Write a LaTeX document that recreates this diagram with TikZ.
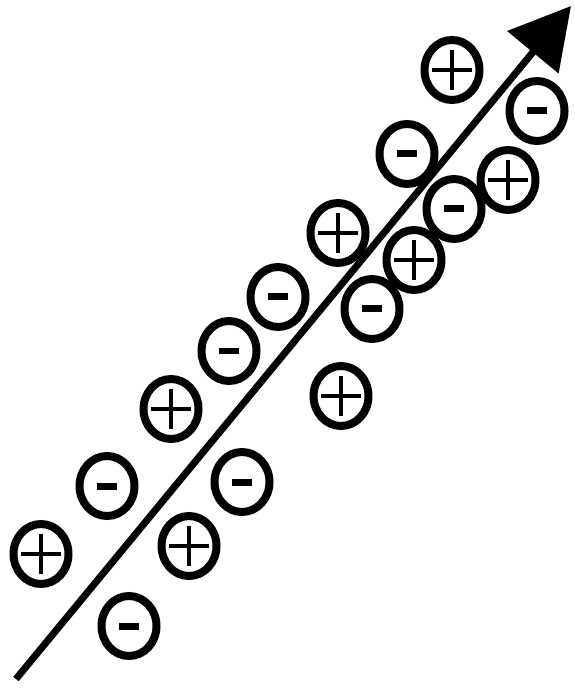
\documentclass[tikz,border=0pt]{standalone}
\usetikzlibrary{arrows.meta,shapes.geometric}

\tikzset{
  charge/.style={draw, ellipse, line width=0.16cm, minimum width=1.1cm, minimum height=1.2cm, inner sep=0pt},
  poscharge/.style={charge, path picture={
    \draw[line width=0.08cm] (path picture bounding box.center) +(-20,0) -- +(20,0);
    \draw[line width=0.08cm] (path picture bounding box.center) +(0,-20) -- +(0,20);}},
  negcharge/.style={charge, path picture={
    \draw[line width=0.14cm] (path picture bounding box.center) +(-10,0) -- +(10,0);}}
}

\begin{document}
\begin{tikzpicture}[x=0.02cm, y=-0.02cm]
\useasboundingbox (0,0) rectangle (574,688);
% Field line
\coordinate (start) at (16,679);
\coordinate (tip) at (571,6);
\draw[-{Triangle[length=1.2cm, width=1.3cm]}, line width=0.14cm] (start) -- (tip);
% Positive ions
\foreach \n/\x/\y in {p1/452/70, p2/508/180, p3/338/233, p4/414/260, p5/341/396, p6/171/409, p7/189/546, p8/41/554} {
  \node[poscharge] (\n) at (\x,\y) {};
}
% Negative ions
\foreach \n/\x/\y in {n1/537/111, n2/407/154, n3/454/209, n4/278/297, n5/372/309, n6/229/351, n7/107/486, n8/242/482, n9/129/626} {
  \node[negcharge] (\n) at (\x,\y) {};
}
\end{tikzpicture}
\end{document}
